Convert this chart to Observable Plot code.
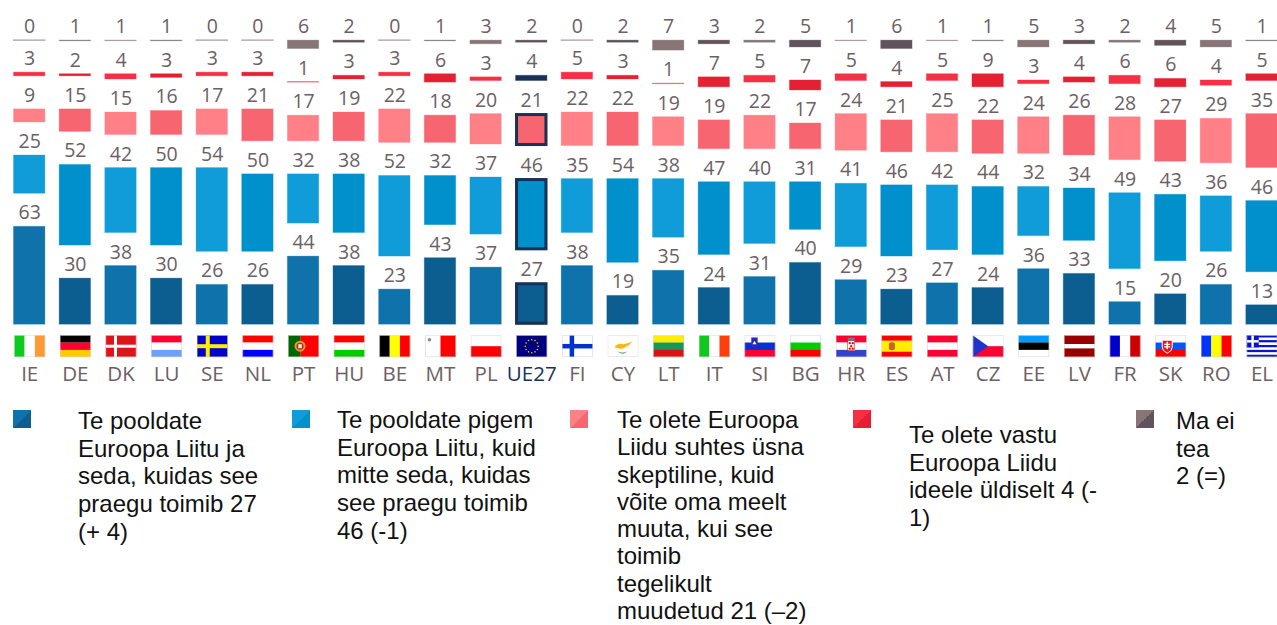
<!DOCTYPE html>
<html lang="et">
<head>
<meta charset="utf-8">
<script src="https://cdn.jsdelivr.net/npm/d3@7"></script>
<script src="https://cdn.jsdelivr.net/npm/@observablehq/plot@0.6"></script>
<style>
html,body{margin:0;padding:0;background:#fff;overflow:hidden;width:1277px;height:625px}
#chart svg{display:block}
#legend{position:relative;width:1277px;height:230px;font-family:"Liberation Sans",Arial,sans-serif;font-size:24px;line-height:27.7px;color:#111}
#legend .sw{position:absolute;width:18px;height:18px}
#legend .tx{position:absolute;white-space:nowrap}
</style>
</head>
<body>
<div id="chart"></div>
<div id="legend"></div>
<script>
const countries = ["IE","DE","DK","LU","SE","NL","PT","HU","BE","MT","PL","UE27","FI","CY","LT","IT","SI","BG","HR","ES","AT","CZ","EE","LV","FR","SK","RO","EL"];
const supportBoth   = [63,30,38,30,26,26,44,38,23,43,37,27,38,19,35,24,31,40,29,23,27,24,36,33,15,20,26,13];
const supportIdea   = [25,52,42,50,54,50,32,38,52,32,37,46,35,54,38,47,40,31,41,46,42,44,32,34,49,43,36,46];
const sceptical     = [ 9,15,15,16,17,21,17,19,22,18,20,21,22,22,19,19,22,17,24,21,25,22,24,26,28,27,29,35];
const opposed       = [ 3, 2, 4, 3, 3, 3, 1, 3, 3, 6, 3, 4, 5, 3, 1, 7, 5, 7, 5, 4, 5, 9, 3, 4, 6, 6, 4, 5];
const dontKnow      = [ 0, 1, 1, 1, 0, 0, 6, 2, 0, 1, 3, 2, 0, 2, 7, 3, 2, 5, 1, 6, 1, 1, 5, 3, 2, 4, 5, 1];
const seriesValues  = [supportBoth, supportIdea, sceptical, opposed, dontKnow];
const lightShades   = ["#0F72AA","#109CD8","#FF8087","#F63044","#877578"];
const darkShades    = ["#0D5E90","#0090CC","#F76570","#E52033","#60535C"];
const legendLines = [
  ["Te pooldate","Euroopa Liitu ja","seda, kuidas see","praegu toimib 27","(+ 4)"],
  ["Te pooldate pigem","Euroopa Liitu, kuid","mitte seda, kuidas","see praegu toimib","46 (-1)"],
  ["Te olete Euroopa","Liidu suhtes üsna","skeptiline, kuid","võite oma meelt","muuta, kui see","toimib","tegelikult","muudetud 21 (–2)"],
  ["Te olete vastu","Euroopa Liidu","ideele üldiselt 4 (-","1)"],
  ["Ma ei","tea","2 (=)"]
];
const legendSwatchX = [13,292,570,853,1136];
const legendTextX = [78,337,617,909,1176];
const legendTextY = [12,11,11,26,12];
const legendLineHeight = [27.7,27.7,27.3,27.7,27.7];

const navy = "#1A3157";
const groupGap = 20.4;

// Flags, each a small picture
const W = 62, H = 44;
const hs = (cols, weights) => { const w = weights || cols.map(() => 1), t = d3.sum(w); let y = 0;
  return cols.map((c,i) => { const s = `<rect x="0" y="${y}" width="${W}" height="${H*w[i]/t+.3}" fill="${c}"/>`; y += H*w[i]/t; return s; }).join(""); };
const vs = (cols, weights) => { const w = weights || cols.map(() => 1), t = d3.sum(w); let x = 0;
  return cols.map((c,i) => { const s = `<rect x="${x}" y="0" width="${W*w[i]/t+.3}" height="${H}" fill="${c}"/>`; x += W*w[i]/t; return s; }).join(""); };
const cross = (bg, fg, cx, t) => `<rect width="${W}" height="${H}" fill="${bg}"/><rect x="${cx-t/2}" y="0" width="${t}" height="${H}" fill="${fg}"/><rect x="0" y="${H/2-t/2}" width="${W}" height="${t}" fill="${fg}"/>`;
const euStars = d3.range(12).map(i => { const a = i*Math.PI/6; return `<circle cx="${W/2+13*Math.cos(a)}" cy="${H/2+13*Math.sin(a)}" r="1.6" fill="#E8D020"/>`; }).join("");
const elStripes = d3.range(9).map(i => `<rect x="0" y="${i*H/9}" width="${W}" height="${H/9+.2}" fill="${i%2?"#fff":"#0A14C8"}"/>`).join("");
const flagArt = {
  IE: vs(["#0DCB1D","#fff","#FF9A35"]),
  DE: hs(["#000","#FF0033","#FFCC00"]),
  DK: cross("#DD1419","#fff",20,6),
  LU: hs(["#FF0033","#fff","#6FA0FF"]),
  SE: cross("#0000CC","#FFEE00",22,8),
  NL: hs(["#FF0000","#fff","#0000FF"]),
  PT: vs(["#006600","#FF0000"],[2,3]) + `<circle cx="24" cy="22" r="11" fill="#D9A520"/><circle cx="24" cy="22" r="7" fill="#C81E1E"/><rect x="20.5" y="18" width="7" height="8" fill="#eee"/>`,
  HU: hs(["#FF0000","#fff","#00CC00"]),
  BE: vs(["#000","#FFFF00","#FF0000"]),
  MT: vs(["#fff","#FF0000"]) + `<circle cx="9" cy="9" r="3.5" fill="#888"/>`,
  PL: hs(["#fff","#FF0000"]),
  UE27: `<rect width="${W}" height="${H}" fill="#000080"/>` + euStars,
  FI: cross("#fff","#0033CC",20,9),
  CY: `<rect width="${W}" height="${H}" fill="#fff"/><path d="M14 24 Q20 14 32 18 Q42 16 50 12 Q44 20 38 22 Q30 30 22 26 Z" fill="#FFB612"/><path d="M20 32 Q30 42 40 32 Q30 37 20 32 Z" fill="#5BB05B"/>`,
  LT: hs(["#FFEE00","#119955","#DD1111"]),
  IT: vs(["#0DCB1D","#fff","#FF3E0D"]),
  SI: hs(["#fff","#0033CC","#FF0033"]) + `<path d="M14 5 H26 V16 Q26 22 20 25 Q14 22 14 16 Z" fill="#0033CC" stroke="#FF0033"/><path d="M16 18 L20 11 L24 18 Z" fill="#fff"/>`,
  BG: hs(["#fff","#00CC00","#FF0000"]),
  HR: hs(["#FF0033","#fff","#3344CC"]) + `<rect x="24" y="11" width="14" height="20" fill="#fff" stroke="#CC0000"/><rect x="26" y="14" width="4" height="4" fill="#CC0000"/><rect x="32" y="14" width="4" height="4" fill="#CC0000"/><rect x="29" y="20" width="4" height="4" fill="#CC0000"/><rect x="26" y="25" width="4" height="4" fill="#CC0000"/><rect x="32" y="25" width="4" height="4" fill="#CC0000"/><rect x="24" y="5" width="14" height="6" fill="#778"/>`,
  ES: hs(["#FF0000","#FFEE00","#FF0000"],[1,2,1]) + `<rect x="15" y="14" width="12" height="16" rx="4" fill="#C8661E"/>`,
  AT: hs(["#FF0033","#fff","#FF0033"]),
  CZ: hs(["#fff","#FF0033"]) + `<path d="M0 0 L31 22 L0 44 Z" fill="#2233CC"/>`,
  EE: hs(["#0099FF","#000","#fff"]),
  LV: hs(["#990000","#fff","#990000"],[2,1,2]),
  FR: vs(["#0000CC","#fff","#CC0000"]),
  SK: hs(["#fff","#0055FF","#FF0000"]) + `<path d="M14 10 H34 V24 Q34 32 24 36 Q14 32 14 24 Z" fill="#EE1122" stroke="#fff" stroke-width="2"/><rect x="22.5" y="13" width="3" height="15" fill="#fff"/><rect x="18" y="17" width="12" height="2.5" fill="#fff"/><rect x="18" y="22" width="12" height="2.5" fill="#fff"/>`,
  RO: vs(["#0033FF","#FFFF00","#FF0000"]),
  EL: elStripes + `<rect width="${H*5/9}" height="${H*5/9}" fill="#0A14C8"/><rect x="${H*2/9}" y="0" width="${H/9}" height="${H*5/9}" fill="#fff"/><rect x="0" y="${H*2/9}" width="${H*5/9}" height="${H/9}" fill="#fff"/>`
};
const flagUri = c => "data:image/svg+xml," + encodeURIComponent(
  `<svg xmlns="http://www.w3.org/2000/svg" viewBox="0 0 ${W} ${H}" width="${W}" height="${H}" preserveAspectRatio="none">${flagArt[c]}<rect x=".75" y=".75" width="${W-1.5}" height="${H-1.5}" fill="none" stroke="#D8D0D0" stroke-width="1.5" stroke-opacity=".8"/></svg>`);

// Stack with a constant gap between groups, in the value units of the y scale
const segments = [];
countries.forEach((country, c) => {
  let base = 0;
  seriesValues.forEach((vals, s) => {
    const value = vals[c];
    const isEU = country === "UE27";
    const fill = (isEU && s === 3) ? navy : (c % 2 === 0 ? lightShades[s] : darkShades[s]);
    segments.push({country, s, value, y1: base, y2: base + value, fill, isEU});
    base += value + groupGap;
  });
});
const filled = segments.filter(d => d.value > 0);
const zero = segments.filter(d => d.value === 0);
const euFrames = segments.filter(d => d.isEU && d.s < 3);

const chart = Plot.plot({
  width: 1277,
  height: 395,
  margin: 0,
  style: {fontFamily: '"Open Sans",sans-serif', background: "#fff"},
  x: {type: "band", domain: countries, range: [13, 1277.7], paddingInner: 0.29, paddingOuter: 0, align: 0, round: false, axis: null},
  y: {domain: [0, 181.6], range: [324.7, 39.6], axis: null},
  color: {type: "identity"},
  marks: [
    Plot.barY(filled, {x: "country", y1: "y1", y2: "y2", fill: "fill", stroke: "fill", strokeOpacity: 0.3, strokeWidth: 1, inset: 0.5}),
    Plot.tickY(zero, {x: "country", y: "y1", stroke: "#A89C9F", strokeWidth: 1.3}),
    Plot.barY(euFrames, {x: "country", y1: "y1", y2: "y2", fill: "none", stroke: navy, strokeWidth: 3, inset: 1.5}),
    Plot.text(segments, {x: "country", y: "y2", text: d => String(d.value), lineAnchor: "bottom", dy: -7, fontSize: 19.5, fill: "#6C6064"}),
    Plot.image(countries, {x: d => d, y: () => 0, src: flagUri, width: 31, height: 22, dy: 21, preserveAspectRatio: "none"}),
    Plot.text(countries, {x: d => d, y: () => 0, text: d => d, fontSize: 20.5, lineAnchor: "bottom", dy: 56, fill: d => d === "UE27" ? navy : "#6C6064"})
  ]
});
document.getElementById("chart").append(chart);

const legend = d3.select("#legend");
legendLines.forEach((lines, i) => {
  legend.append("div").attr("class", "sw")
    .style("left", legendSwatchX[i] + "px").style("top", "15px")
    .style("background", `linear-gradient(135deg, ${lightShades[i]} 50%, ${darkShades[i]} 50%)`);
  legend.append("div").attr("class", "tx")
    .style("left", legendTextX[i] + "px").style("top", legendTextY[i] + "px")
    .style("line-height", legendLineHeight[i] + "px")
    .html(lines.join("<br>"));
});
</script>
</body>
</html>
